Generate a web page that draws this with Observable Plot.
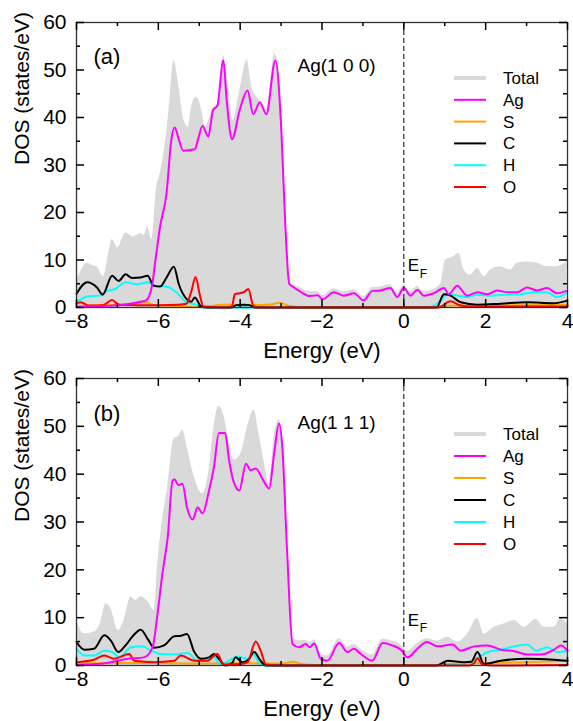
<!DOCTYPE html>
<html>
<head>
<meta charset="utf-8">
<script src="https://cdn.jsdelivr.net/npm/d3@7"></script>
<script src="https://cdn.jsdelivr.net/npm/@observablehq/plot@0.6"></script>
<style>
  html, body { margin: 0; padding: 0; background: white; }
  #chart svg { display: block; }
</style>
</head>
<body>
<div id="chart"></div>
<script>
// ---------- data: panel (a) Ag(1 0 0) ----------
const totalA = [[-8,5.7],[-7.9,7.5],[-7.74,9.3],[-7.6,8.8],[-7.5,8.6],[-7.34,6.5],[-7.22,11],[-7.13,14.3],[-6.99,12.6],[-6.8,15.7],[-6.6,14.9],[-6.44,15.6],[-6.35,15.2],[-6.26,16.9],[-6.16,14.3],[-6.04,25.3],[-5.96,28],[-5.8,36.6],[-5.72,43.3],[-5.62,52],[-5.51,47.4],[-5.39,40],[-5.27,38],[-5.19,42],[-5.07,44.3],[-4.95,42],[-4.85,38],[-4.66,42],[-4.54,43],[-4.41,53],[-4.29,46.4],[-4.17,39.4],[-4.01,45.7],[-3.83,52],[-3.72,46.6],[-3.6,44.3],[-3.52,43.6],[-3.36,41.6],[-3.15,53.4],[-3.03,47.6],[-2.92,26],[-2.85,12],[-2.78,5.2],[-2.7,4.8],[-2.54,4.2],[-2.34,3.4],[-2.1,3.3],[-1.99,2.5],[-1.71,3.9],[-1.47,3.3],[-1.22,3.7],[-0.98,2.3],[-0.77,4.2],[-0.57,4.3],[-0.33,4.8],[-0.16,3],[0,4.8],[0.16,3.3],[0.33,4.4],[0.49,3.3],[0.73,3.8],[0.9,5],[1.02,10],[1.22,10.7],[1.35,11.4],[1.47,7.9],[1.63,6.8],[1.8,8.2],[1.96,6.5],[2.12,7.9],[2.36,8.6],[2.61,7.9],[2.77,9.3],[3.01,9.6],[3.26,9.3],[3.5,8.6],[3.74,8.6],[3.98,9.6]];
const agA = [[-8,0.1],[-7.5,0.3],[-7.1,0.4],[-6.77,0.7],[-6.44,1.2],[-6.3,1.5],[-6.16,4.3],[-6.07,10],[-5.96,16.9],[-5.8,24],[-5.68,35.4],[-5.6,37.9],[-5.5,35.4],[-5.39,33],[-5.11,33.3],[-5.03,35.4],[-4.92,38.2],[-4.78,36],[-4.66,41.6],[-4.56,42.4],[-4.41,52],[-4.33,43.7],[-4.2,35.4],[-4.01,41.6],[-3.82,45.7],[-3.68,40.7],[-3.52,43.2],[-3.36,40.7],[-3.14,52],[-2.99,36.6],[-2.9,18],[-2.8,5],[-2.7,4.3],[-2.54,3.4],[-2.3,2.4],[-2.1,2.6],[-1.99,1.7],[-1.71,3.2],[-1.47,2.5],[-1.22,3],[-0.98,1.5],[-0.77,3.5],[-0.57,3.6],[-0.33,4.1],[-0.16,2.2],[0,4.1],[0.16,2.5],[0.33,3.7],[0.49,2.5],[0.73,3],[0.98,4.1],[1.1,2.8],[1.3,4.6],[1.55,2.5],[1.8,3.2],[2.04,2.8],[2.28,3.6],[2.53,3.2],[2.77,3.2],[3.01,4.2],[3.26,3.6],[3.5,4.1],[3.74,3],[3.98,3.5]];
const sA = [[-8,0.3],[-7.5,0.5],[-7,0.6],[-6.6,0.8],[-6.3,1.1],[-6.1,0.5],[-5.5,0.3],[-5,0.1],[-4.7,0.3],[-4.5,0.6],[-4.2,0.6],[-3.8,0.5],[-3.3,0.6],[-3.03,1],[-2.8,0.3],[-2.5,0.1],[0.8,0.1],[1.0,0.4],[2,0.4],[3,0.5],[4,0.6]];
const cA = [[-8,2.9],[-7.74,5.3],[-7.5,4.2],[-7.36,2.7],[-7.13,6.7],[-6.97,5.6],[-6.8,7],[-6.64,6.2],[-6.44,6.3],[-6.26,6.7],[-6.12,4.6],[-5.96,4.4],[-5.8,6.3],[-5.62,8.6],[-5.5,4.9],[-5.31,1.8],[-5.2,1.2],[-5.11,2.1],[-4.95,0.2],[-4.8,0],[-4.2,0],[-4.1,0.5],[-3.9,0.6],[-3.77,0.5],[-3.65,0],[0.8,0],[0.98,2.8],[1.14,2.5],[1.39,1.1],[1.8,0.6],[2.36,0.8],[3.01,1.1],[3.66,0.9],[3.98,1.4]];
const hA = [[-8,1.1],[-7.74,2.3],[-7.43,2.5],[-7.26,3.5],[-7.05,3.9],[-6.8,5.3],[-6.52,4.9],[-6.26,5.3],[-6.07,4.6],[-5.8,4.4],[-5.56,3.2],[-5.31,1.1],[-5.07,0.6],[-4.9,0],[0.6,0],[0.9,1.4],[1.06,2.8],[1.31,2.5],[1.55,2.2],[1.8,2.7],[2.12,2.5],[2.53,2.7],[2.85,2.8],[3.18,3.2],[3.5,3.2],[3.74,2.2],[3.98,3]];
const oA = [[-8,0.8],[-7.9,1.1],[-7.7,0.4],[-7.35,0.5],[-7.13,1.6],[-6.97,0.6],[-6.5,0.5],[-6,0.5],[-5.5,0.6],[-5.31,0.8],[-5.19,3.5],[-5.09,6.4],[-4.99,2.8],[-4.9,0.2],[-4.3,0],[-4.2,0.3],[-4.13,2.8],[-4.01,3],[-3.9,3.3],[-3.8,3.9],[-3.68,0.4],[-3.55,0],[0.85,0],[1.14,1.3],[1.39,0.4],[1.6,0.2],[4,0.2]];

// ---------- data: panel (b) Ag(1 1 1) ----------
const totalB = [[-8,9.4],[-7.81,6.6],[-7.57,7],[-7.42,8.7],[-7.28,12.9],[-7.16,11.9],[-6.98,7.3],[-6.84,9.4],[-6.67,14.3],[-6.55,13.6],[-6.43,14.4],[-6.25,13.3],[-6.1,11.5],[-6.02,20.6],[-5.94,27.6],[-5.77,37.3],[-5.61,47.5],[-5.51,47.8],[-5.41,49.2],[-5.28,45],[-5.12,39.4],[-4.92,35.9],[-4.76,40.8],[-4.64,49.9],[-4.52,54.2],[-4.39,52],[-4.27,46.4],[-4.15,42.9],[-3.98,44.3],[-3.82,49.9],[-3.66,53.4],[-3.54,48.5],[-3.42,42.9],[-3.29,38],[-3.17,47.8],[-3.05,51.3],[-2.97,47],[-2.85,25],[-2.72,5.9],[-2.56,5.2],[-2.4,5.3],[-2.3,4.8],[-2.19,5.4],[-2.03,2.4],[-1.87,2],[-1.58,5.6],[-1.38,3.8],[-1.22,4.4],[-1.05,3.4],[-0.77,2.2],[-0.52,5.5],[-0.28,5.1],[-0.07,4.3],[0.09,3],[0.33,4.6],[0.56,5.6],[0.82,5.1],[1.07,5.9],[1.31,4.9],[1.56,6.6],[1.8,9.8],[1.96,6.6],[2.21,8],[2.45,8.7],[2.7,9.4],[2.94,8],[3.23,9.6],[3.43,8],[3.67,8],[3.84,9.8],[4,8.7]];
const agB = [[-8,0.1],[-7.5,0.3],[-7.16,0.7],[-6.75,1.4],[-6.35,1.7],[-6.14,3.8],[-6.02,10.8],[-5.9,19.2],[-5.77,26.9],[-5.65,38.7],[-5.6,38.9],[-5.51,37.7],[-5.41,38],[-5.3,33.1],[-5.16,30.5],[-5.04,33.1],[-4.92,31.8],[-4.76,36.6],[-4.64,41.5],[-4.52,48.6],[-4.37,48.6],[-4.27,42.9],[-4.17,38.7],[-4.02,36.6],[-3.86,42.2],[-3.74,40.8],[-3.62,41.2],[-3.46,39.1],[-3.29,37],[-3.17,44.3],[-3.05,50.6],[-2.97,45.7],[-2.85,23.4],[-2.72,4.5],[-2.56,3.8],[-2.4,4.5],[-2.3,3.8],[-2.19,4.6],[-2.03,1.4],[-1.87,1],[-1.58,4.7],[-1.38,2.8],[-1.22,3.5],[-1.05,2.4],[-0.77,1],[-0.52,4.7],[-0.28,4.2],[-0.07,3.3],[0.09,1.7],[0.33,3.5],[0.56,4.9],[0.82,4],[1.19,4.4],[1.39,3.1],[1.72,4],[2.04,4.2],[2.37,3.3],[2.7,3],[3.02,2.3],[3.35,2.3],[3.67,3.3],[3.84,4.2],[4,3.1]];
const sB = [[-8,0.4],[-7,0.5],[-6,0.5],[-5,0.4],[-4,0.5],[-3,0.4],[-2.7,0.8],[-2.5,0.3],[-2.2,0.1],[0.8,0.1],[1,0.3],[2,0.5],[3,0.7],[4,1.0]];
const cB = [[-8,4.9],[-7.81,3.3],[-7.57,3.5],[-7.32,6.3],[-7.16,5.2],[-6.98,2.8],[-6.8,4.2],[-6.63,6.1],[-6.43,7.5],[-6.25,5.4],[-6.1,3.7],[-5.86,4.2],[-5.61,6.1],[-5.45,6.2],[-5.3,6.6],[-5.12,2.8],[-4.96,1.4],[-4.76,1.7],[-4.64,2.4],[-4.52,1.4],[-4.36,0],[-4.2,0.5],[-4.11,1.7],[-3.95,0.7],[-3.8,1.2],[-3.66,2.8],[-3.5,1],[-3.38,0],[0.8,0],[1.07,1],[1.47,0.7],[1.65,0.8],[1.8,2.8],[1.96,0.3],[2.37,1],[3.02,1.4],[3.67,1.2],[4,1]];
const hB = [[-8,3.5],[-7.81,2.1],[-7.57,2.1],[-7.32,3.1],[-7.12,2.8],[-6.96,1.7],[-6.67,3.8],[-6.39,4],[-6.18,3.1],[-5.94,2.4],[-5.61,2.3],[-5.28,2.6],[-5.04,1],[-4.8,1.4],[-4.68,2.1],[-4.48,0.2],[-4.27,1],[-4.07,1.9],[-3.82,1.4],[-3.68,2.3],[-3.5,0.2],[-3.3,0],[0.8,0],[1.56,0.5],[1.8,1.5],[2.04,2.8],[2.37,3.3],[2.7,4],[3.02,4.4],[3.23,3.1],[3.51,3.8],[3.76,2.8],[4,3.1]];
const oB = [[-8,0.7],[-7.57,1.2],[-7.32,2.1],[-7.08,1.4],[-6.71,2.4],[-6.59,1],[-6.1,0.7],[-5.61,1],[-5.45,2.1],[-5.12,1],[-4.8,1],[-4.56,2.4],[-4.4,0.2],[-4.0,0.3],[-3.82,0.7],[-3.62,5],[-3.5,3.1],[-3.37,0.2],[-3,0],[1.6,0],[1.72,0.5],[1.8,1.5],[1.92,0.2],[2.2,0],[4,0.1]];

// ---------- labels / ticks ----------
const seriesNames = ["Total", "Ag", "S", "C", "H", "O"];
const seriesColors = ["#d9d9d9", "#ff00ff", "#ffa500", "#000000", "#00ffff", "#ff0000"];
const xMajor = [-8, -6, -4, -2, 0, 2, 4];
const xMinor = [-7, -5, -3, -1, 1, 3];
const yMajor = [0, 10, 20, 30, 40, 50, 60];
const yMinor = [5, 15, 25, 35, 45, 55];
const panelTags = ["(a)", "(b)"];
const surfaces = ["Ag(1 0 0)", "Ag(1 1 1)"];

const toObj = arr => arr.map(([x, y]) => ({x, y}));

function panel({total, ag, s, c, h, o, tag, surface, height, marginTop, marginBottom, efE, efF, legendY0, legendStep, tagDy, surfDy}) {
  const font = "Liberation Sans, Arial, Helvetica, sans-serif";
  const W = 573, ML = 76, MR = 6;
  const fh = height - marginTop - marginBottom;
  const fw = W - ML - MR;
  const xDom = [-8, 4], yDom = [0, 60];
  // tick lengths (pixels) expressed in data units of each axis
  const ux = (xDom[1] - xDom[0]) / fw, uy = (yDom[1] - yDom[0]) / fh;
  const LMaj = 8, LMin = 4;
  const tk = {stroke: "black", strokeWidth: 1.5};
  const lineOpts = (color) => ({x: "x", y: "y", stroke: color, strokeWidth: 2, curve: "monotone-x"});
  const svg = Plot.plot({
    width: W,
    height,
    marginTop,
    marginBottom,
    marginLeft: ML,
    marginRight: MR,
    style: {fontFamily: font, fontSize: "21px", color: "black", background: "white", overflow: "visible"},
    x: {domain: xDom, label: null},
    y: {domain: yDom, label: null},
    marks: [
      Plot.areaY(toObj(total), {x: "x", y: "y", fill: seriesColors[0], curve: "monotone-x"}),
      Plot.line(toObj(s), lineOpts(seriesColors[2])),
      Plot.line(toObj(h), lineOpts(seriesColors[4])),
      Plot.line(toObj(c), lineOpts(seriesColors[3])),
      Plot.line(toObj(o), lineOpts(seriesColors[5])),
      Plot.line(toObj(ag), lineOpts(seriesColors[1])),
      Plot.ruleX([0], {stroke: "black", strokeWidth: 1, strokeDasharray: "5,3"}),
      Plot.frame({stroke: "#333", strokeWidth: 1.3}),
      // inward ticks on all four sides
      Plot.ruleX(xMajor, {x: d => d, y1: yDom[0], y2: yDom[0] + LMaj * uy, ...tk}),
      Plot.ruleX(xMinor, {x: d => d, y1: yDom[0], y2: yDom[0] + LMin * uy, ...tk}),
      Plot.ruleX(xMajor, {x: d => d, y1: yDom[1], y2: yDom[1] - LMaj * uy, ...tk}),
      Plot.ruleX(xMinor, {x: d => d, y1: yDom[1], y2: yDom[1] - LMin * uy, ...tk}),
      Plot.ruleY(yMajor, {y: d => d, x1: xDom[0], x2: xDom[0] + LMaj * ux, ...tk}),
      Plot.ruleY(yMinor, {y: d => d, x1: xDom[0], x2: xDom[0] + LMin * ux, ...tk}),
      Plot.ruleY(yMajor, {y: d => d, x1: xDom[1], x2: xDom[1] - LMaj * ux, ...tk}),
      Plot.ruleY(yMinor, {y: d => d, x1: xDom[1], x2: xDom[1] - LMin * ux, ...tk}),
      // tick labels
      Plot.axisX(xMajor, {anchor: "bottom", tickSize: 0, tickPadding: 6, label: null, fontSize: 21}),
      Plot.axisY(yMajor, {anchor: "left", tickSize: 0, tickPadding: 10, label: null, fontSize: 21}),
      // titles
      Plot.text(["Energy (eV)"], {frameAnchor: "bottom", dy: 43, fontSize: 22, lineAnchor: "middle"}),
      Plot.text(["DOS (states/eV)"], {frameAnchor: "left", dx: -54, rotate: -90, fontSize: 21}),
      Plot.text([tag], {frameAnchor: "top-left", dx: 17, dy: tagDy, textAnchor: "start", fontSize: 22}),
      Plot.text([surface], {frameAnchor: "top-left", dx: 221, dy: surfDy, textAnchor: "start", fontSize: 19}),
      Plot.text([0], {x: d => d, text: () => "E", frameAnchor: "bottom", dx: 4, dy: efE, textAnchor: "start", fontSize: 17}),
      Plot.text([0], {x: d => d, text: () => "F", frameAnchor: "bottom", dx: 16, dy: efF, textAnchor: "start", fontSize: 12})
    ]
  });

  // legend inside the frame
  const g = d3.select(svg).append("g").attr("font-family", font).attr("font-size", 17).attr("text-anchor", "start");
  seriesNames.forEach((name, i) => {
    const y = legendY0 + i * legendStep;
    g.append("line").attr("x1", 454).attr("x2", 486).attr("y1", y).attr("y2", y)
      .style("stroke", seriesColors[i]).style("stroke-width", i === 0 ? "4px" : "2px");
    g.append("text").attr("x", 503).attr("y", y).attr("dy", "0.35em").attr("text-anchor", "start").attr("fill", "black").text(name);
  });
  return svg;
}

const root = document.getElementById("chart");
root.appendChild(panel({total: totalA, ag: agA, s: sA, c: cA, h: hA, o: oA, tag: panelTags[0], surface: surfaces[0],
  height: 360, marginTop: 22, marginBottom: 53, efE: -37, efF: -30, legendY0: 78, legendStep: 21.8, tagDy: 26, surfDy: 36}));
root.appendChild(panel({total: totalB, ag: agB, s: sB, c: cB, h: hB, o: oB, tag: panelTags[1], surface: surfaces[1],
  height: 361, marginTop: 18, marginBottom: 56, efE: -40, efF: -34, legendY0: 74, legendStep: 22, tagDy: 27, surfDy: 37}));
</script>
</body>
</html>
